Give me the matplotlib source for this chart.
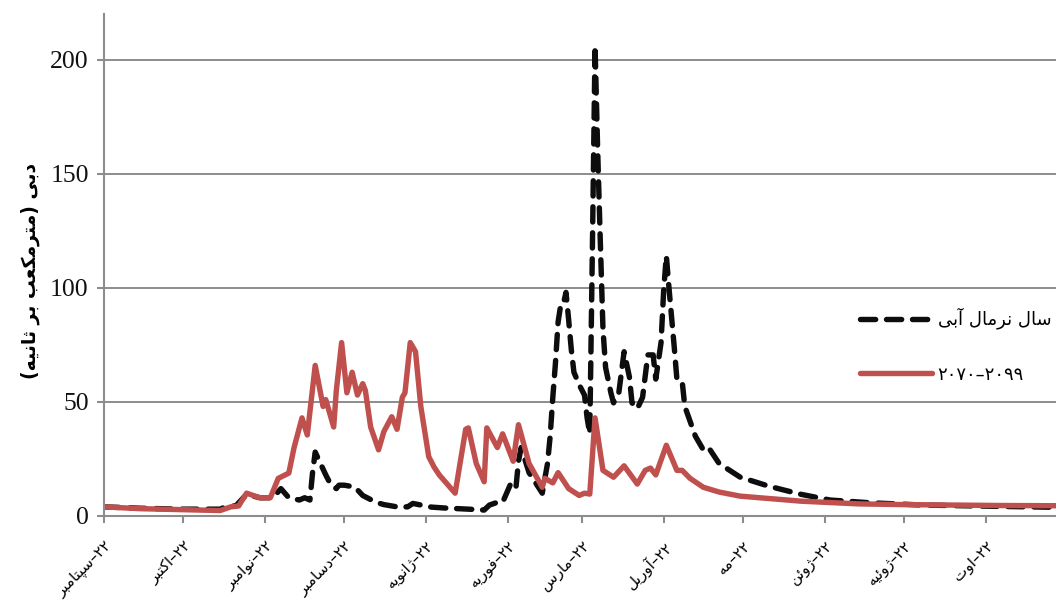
import matplotlib
matplotlib.use('Agg')
import matplotlib.pyplot as plt

# day = days since 22 September
normal_days = [0, 14, 29, 44, 46, 50, 54, 59, 64, 67, 70, 74, 76, 78, 79, 80, 82, 84, 86, 88, 89, 91, 95, 98,
               103, 106, 111, 115, 117, 124, 129, 138, 144, 146, 149, 151, 154, 156, 157, 158, 161, 166,
               168, 169, 170, 171, 172, 173, 174, 175, 176, 177, 178, 180, 182, 183, 184, 185, 186, 187,
               188, 189, 190, 192, 193, 195, 197, 199, 200, 202, 204, 206, 208, 209, 211, 212, 213, 214,
               216, 217, 219, 220, 224, 227, 229, 233, 241, 252, 264, 275, 290, 310, 340, 361]
normal_flow = [4, 3.4, 3, 3, 4, 4.5, 9.5, 8, 8, 12, 8, 7, 8, 7, 19, 28, 23, 18, 13.5, 12, 13.5, 13.5, 12.7, 9,
               6, 5, 4, 4, 5.5, 3.9, 3.5, 3, 2.6, 4.8, 6, 6, 14, 12, 24, 30, 19, 10,
               23, 35, 52, 67, 85, 92.5, 93, 98, 86, 73, 63, 57.5, 53, 43, 36, 118, 206, 160,
               120, 82, 65, 54, 49.6, 54, 72, 61, 49.6, 47, 52, 70.6, 70.6, 60, 76, 99, 114, 100,
               74, 60, 59, 48, 35, 29, 30, 23, 17, 13, 9.5, 7, 5.8, 4.8, 4.2, 3.8]

future_days = [0, 14, 29, 44, 48, 51, 54, 59, 63, 66, 70, 72, 75, 77, 80, 83, 84, 87, 88, 90, 92, 94, 96, 98,
               99, 101, 104, 106, 109, 111, 113, 114, 116, 118, 120, 123, 125, 127, 133, 137, 138, 141,
               144, 145, 149, 151, 155, 157, 161, 166, 167, 170, 172, 176, 180, 182, 184, 186, 189, 193,
               197, 202, 205, 207, 209, 213, 217, 219, 222, 227, 233, 241, 264, 286, 303, 339, 361]
future_flow = [4, 3.2, 2.8, 2.4, 4, 4.4, 10, 8, 8, 16.5, 18.8, 30, 43, 35.5, 66, 48, 51, 39, 55, 76, 54, 63, 53, 58,
               55, 39, 29, 37, 43.5, 38, 52, 54, 76, 72, 48, 26, 21.5, 18, 10, 38, 38.6, 23,
               15, 38.6, 30, 36, 24, 40, 23, 12.6, 16.5, 14.5, 19, 12, 9, 10, 9.6, 43, 20, 17,
               22, 14, 20, 21, 18, 31, 20, 20, 16.5, 12.6, 10.5, 8.7, 6.5, 5.3, 5, 4.6, 4.5]

tick_days = [0, 30, 61, 91, 122, 153, 181, 212, 242, 273, 303, 334]
months = ['سپتامبر', 'اکتبر', 'نوامبر', 'دسامبر', 'ژانویه', 'فوریه', 'مارس', 'آوریل', 'مه', 'ژوئن', 'ژوئیه', 'اوت']
y_ticks = [0, 50, 100, 150, 200]

# matplotlib has no Arabic shaping: isolated, final, initial, medial forms
FORMS = {
    'ا': (0xFE8D, 0xFE8E), 'آ': (0xFE81, 0xFE82), 'د': (0xFEA9, 0xFEAA), 'ر': (0xFEAD, 0xFEAE),
    'ژ': (0xFB8A, 0xFB8B), 'و': (0xFEED, 0xFEEE),
    'ب': (0xFE8F, 0xFE90, 0xFE91, 0xFE92), 'پ': (0xFB56, 0xFB57, 0xFB58, 0xFB59),
    'ت': (0xFE95, 0xFE96, 0xFE97, 0xFE98), 'ث': (0xFE99, 0xFE9A, 0xFE9B, 0xFE9C),
    'س': (0xFEB1, 0xFEB2, 0xFEB3, 0xFEB4), 'ع': (0xFEC9, 0xFECA, 0xFECB, 0xFECC),
    'ف': (0xFED1, 0xFED2, 0xFED3, 0xFED4), 'ک': (0xFB8E, 0xFB8F, 0xFB90, 0xFB91),
    'ل': (0xFEDD, 0xFEDE, 0xFEDF, 0xFEE0), 'م': (0xFEE1, 0xFEE2, 0xFEE3, 0xFEE4),
    'ن': (0xFEE5, 0xFEE6, 0xFEE7, 0xFEE8), 'ه': (0xFEE9, 0xFEEA, 0xFEEB, 0xFEEC),
    'ی': (0xFBFC, 0xFBFD, 0xFBFE, 0xFBFF), 'ئ': (0xFE89, 0xFE8A, 0xFE8B, 0xFE8C),
}


def rtl(text):
    out = []
    for i, ch in enumerate(text):
        if ch not in FORMS:
            out.append({'(': ')', ')': '('}.get(ch, ch))
            continue
        forms = FORMS[ch]
        prev_joins = i > 0 and text[i - 1] in FORMS and len(FORMS[text[i - 1]]) == 4
        next_joins = i + 1 < len(text) and text[i + 1] in FORMS and len(forms) == 4
        if prev_joins and next_joins:
            out.append(chr(forms[3]))
        elif prev_joins:
            out.append(chr(forms[1]))
        elif next_joins:
            out.append(chr(forms[2]))
        else:
            out.append(chr(forms[0]))
    return ''.join(reversed(out))


grey = '#8c8c8c'
fig = plt.figure(figsize=(10.56, 6.03), dpi=100)
ax = fig.add_axes([104 / 1056, 87 / 603, 952 / 1056, 502 / 603])

ax.plot(normal_days, normal_flow, color='#0d0d0d', lw=3.9, dashes=(2.8, 2.0), dash_capstyle='round',
        label=rtl('سال نرمال آبی'))
ax.plot(future_days, future_flow, color='#c0504d', lw=3.9, solid_capstyle='round', solid_joinstyle='round',
        label='۲۰۷۰–۲۰۹۹')

ax.set_xlim(0, 360.6)
ax.set_ylim(0, 220)
ax.set_yticks(y_ticks)
ax.set_xticks(tick_days)
ax.set_xticklabels([rtl(m) + '–۲۲' for m in months], rotation=45, ha='right', va='top',
                   rotation_mode='anchor', fontsize=11, family='DejaVu Sans')
for label in ax.get_yticklabels():
    label.set_family('Liberation Serif')
    label.set_fontsize(18.5)
    label.set_color('#111111')
ax.tick_params(axis='both', color=grey, width=1.5, length=5)
ax.tick_params(axis='x', pad=11)
ax.tick_params(axis='y', pad=6)
ax.grid(True, axis='y', color=grey, lw=1.4)
ax.set_axisbelow(True)
for side in ['top', 'right']:
    ax.spines[side].set_visible(False)
for side in ['left', 'bottom']:
    ax.spines[side].set_color(grey)
    ax.spines[side].set_linewidth(1.5)

ax.set_ylabel(rtl('دبی (مترمکعب بر ثانیه)'), fontsize=13.5, fontweight='bold', family='DejaVu Sans',
              labelpad=7, y=0.488)

ax.legend(loc='upper left', bbox_to_anchor=(0.794, 0.415), frameon=False, handlelength=4.0,
          handletextpad=0.3, labelspacing=2.0, borderpad=0, borderaxespad=0,
          prop={'family': 'DejaVu Sans', 'size': 13})

fig.savefig('out.png', dpi=100)
